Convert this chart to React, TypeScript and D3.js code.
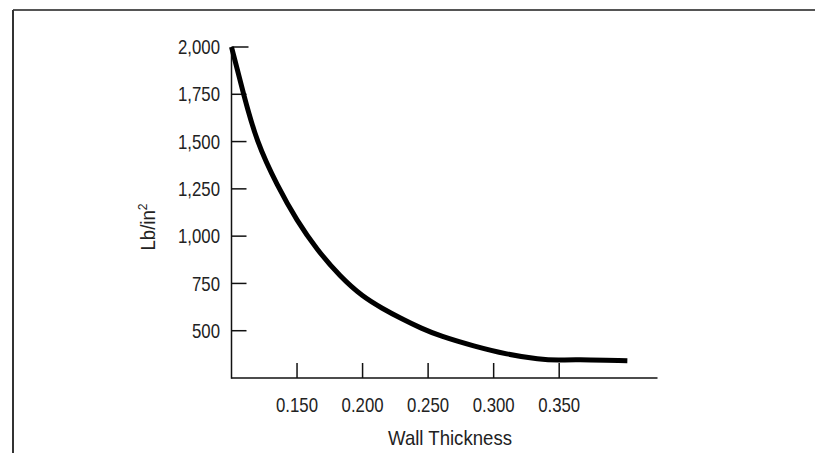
import React from "react";
import * as d3 from "d3";

const thickness = [0.1, 0.109, 0.119, 0.135, 0.15, 0.165, 0.183, 0.2, 0.215, 0.23, 0.245, 0.259, 0.285, 0.31, 0.335, 0.35, 0.361, 0.402];
const pressure = [2000, 1755, 1500, 1265, 1080, 930, 785, 680, 618, 562, 512, 472, 418, 375, 348, 344, 348, 341];
const xTicks = [0.15, 0.2, 0.25, 0.3, 0.35];
const yTicks = [500, 750, 1000, 1250, 1500, 1750, 2000];

const W = 815;
const H = 453;
const FONT = "'Liberation Sans', Arial, Helvetica, sans-serif";
const NUM_SX = 0.84;

export default function App() {
  const x = d3.scaleLinear().domain([0.1, 0.425]).range([231.5, 657.5]);
  const y = d3.scaleLinear().domain([250, 2000]).range([378, 47]);
  const pts = thickness.map((t, i) => [t, pressure[i]] as [number, number]);
  const line = d3
    .line<[number, number]>()
    .x((d) => x(d[0]))
    .y((d) => y(d[1]))
    .curve(d3.curveBasis);
  const fmt = d3.format(",");
  const x0 = x(0.1);
  const yBase = y(250);
  return (
    <svg width={W} height={H} style={{ position: "absolute", left: 0, top: 0 }} fontFamily={FONT}>
      <rect x={0} y={0} width={W} height={H} fill="#fff" />
      {/* frame */}
      <line x1={13} y1={10} x2={W} y2={10} stroke="#555" strokeWidth={2} />
      <line x1={13} y1={10} x2={13} y2={H} stroke="#333" strokeWidth={2} />
      {/* axes */}
      <line x1={x0} y1={y(2000)} x2={x0} y2={yBase + 0.75} stroke="#111" strokeWidth={1.5} />
      <line x1={x0} y1={yBase} x2={x(0.425)} y2={yBase} stroke="#111" strokeWidth={1.5} />
      {yTicks.map((v) => (
        <g key={"y" + v}>
          <line x1={x0} y1={y(v)} x2={x0 + (v === 2000 ? 17 : 15)} y2={y(v)} stroke="#111" strokeWidth={1.5} />
          <text
            transform={`translate(220,${y(v)}) scale(${NUM_SX},1)`}
            dy="0.36em"
            textAnchor="end"
            fontSize={20}
            fill="#222"
          >
            {fmt(v)}
          </text>
        </g>
      ))}
      {xTicks.map((v) => (
        <g key={"x" + v}>
          <line x1={x(v)} y1={yBase} x2={x(v)} y2={yBase - 15} stroke="#111" strokeWidth={1.5} />
          <text
            transform={`translate(${x(v)},412) scale(${NUM_SX},1)`}
            textAnchor="middle"
            fontSize={20}
            fill="#222"
          >
            {d3.format(".3f")(v)}
          </text>
        </g>
      ))}
      <text transform="translate(450,445) scale(0.93,1)" textAnchor="middle" fontSize={20} fill="#222">
        Wall Thickness
      </text>
      <text transform="translate(155,227) rotate(-90) scale(0.93,1)" textAnchor="middle" fontSize={20} fill="#222">
        Lb/in<tspan dy="-8" fontSize={13}>2</tspan>
      </text>
      <path d={line(pts) ?? ""} fill="none" stroke="#000" strokeWidth={5} />
    </svg>
  );
}
